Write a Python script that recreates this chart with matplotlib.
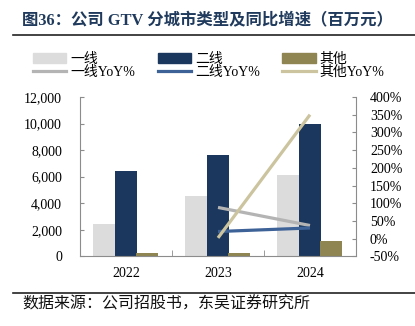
import matplotlib
matplotlib.use("Agg")
import matplotlib.pyplot as plt
import numpy as np
from matplotlib.lines import Line2D
from matplotlib.patches import Patch
from matplotlib.ticker import FuncFormatter, FixedLocator

plt.rcParams['font.family'] = ['Liberation Serif', 'Noto Sans CJK SC']
plt.rcParams['axes.unicode_minus'] = False

years = ["2022", "2023", "2024"]
tier1 = [2430, 4540, 6120]
tier2 = [6420, 7650, 9970]
other = [270, 270, 1150]
tier1_yoy = [np.nan, 88, 37]
tier2_yoy = [np.nan, 20, 30]
other_yoy = [np.nan, 2, 350]

c_t1, c_t2, c_ot = "#dcdcdc", "#1b375d", "#8f8552"
c_t1y, c_t2y, c_oty = "#b4b4b4", "#3d6298", "#cbc49e"
title_color = "#1f3a5c"
spine_color = "#8c8c8c"

W, H = 415, 326
fig = plt.figure(figsize=(W / 100, H / 100), dpi=100)
ax = fig.add_axes([80 / W, 1 - 256.3 / H, (356 - 80) / W, (256.3 - 97) / H])

x = np.arange(len(years))
bw = 0.235
ax.bar(x - 0.24, tier1, bw, color=c_t1, label="一线", zorder=2)
ax.bar(x, tier2, bw, color=c_t2, label="二线", zorder=2)
ax.bar(x + 0.23, other, bw, color=c_ot, label="其他", zorder=2)

ax.set_xlim(-0.5, 2.5)
ax.set_ylim(0, 12000)
ax.set_yticks(np.arange(0, 12001, 2000))
ax.yaxis.set_major_formatter(FuncFormatter(lambda v, p: f"{int(v):,}"))
ax.set_xticks(x)
ax.set_xticklabels(years)
ax.xaxis.set_minor_locator(FixedLocator([0.5, 1.5]))
ax.tick_params(axis='x', which='major', length=0, pad=8, labelsize=10)
ax.tick_params(axis='x', which='minor', length=4, direction='in', color=spine_color)
ax.tick_params(axis='y', length=3, direction='in', color=spine_color, pad=13, labelsize=10)
for s in ['top', 'right']:
    ax.spines[s].set_visible(False)
for s in ['left', 'bottom']:
    ax.spines[s].set_color(spine_color)
    ax.spines[s].set_linewidth(0.8)

ax2 = ax.twinx()
ax2.plot(x, tier1_yoy, color=c_t1y, lw=2.3, label="一线YoY%", solid_capstyle='butt')
ax2.plot(x, tier2_yoy, color=c_t2y, lw=2.3, label="二线YoY%", solid_capstyle='butt')
ax2.plot(x, other_yoy, color=c_oty, lw=2.3, label="其他YoY%", solid_capstyle='butt')
ax2.set_ylim(-50, 400)
ax2.set_yticks(np.arange(-50, 401, 50))
ax2.yaxis.set_major_formatter(FuncFormatter(lambda v, p: f"{int(v)}%"))
ax2.tick_params(axis='y', length=3, direction='in', color=spine_color, pad=10, labelsize=10)
for s in ['top', 'left', 'bottom']:
    ax2.spines[s].set_visible(False)
ax2.spines['right'].set_color(spine_color)
ax2.spines['right'].set_linewidth(0.8)

handles = [Patch(color=c_t1), Line2D([], [], color=c_t1y, lw=2.3),
           Patch(color=c_t2), Line2D([], [], color=c_t2y, lw=2.3),
           Patch(color=c_ot), Line2D([], [], color=c_oty, lw=2.3)]
labels = ["一线", "一线YoY%", "二线", "二线YoY%", "其他", "其他YoY%"]
fig.legend(handles, labels, loc='upper left', bbox_to_anchor=(33 / W, 1 - 53 / H),
           bbox_transform=fig.transFigure, ncol=3, frameon=False, fontsize=10,
           borderpad=0, borderaxespad=0, handlelength=2.4, handleheight=0.7,
           handletextpad=0.3, columnspacing=1.6, labelspacing=0.0)

fig.text(22 / W, 1 - 21 / H, "图36：公司 GTV 分城市类型及同比增速（百万元）",
         fontsize=11.8, fontweight='bold', color=title_color, va='center', ha='left')
fig.add_artist(Line2D([13 / W, 1], [1 - 35 / H] * 2, color="#222222", lw=1.2))
fig.add_artist(Line2D([13 / W, 1], [1 - 293 / H] * 2, color="#222222", lw=1.2))
fig.text(22 / W, 1 - 305 / H, "数据来源：公司招股书，东吴证券研究所",
         fontsize=11.5, color="#111111", va='center', ha='left')

fig.savefig("out.png", dpi=100)
